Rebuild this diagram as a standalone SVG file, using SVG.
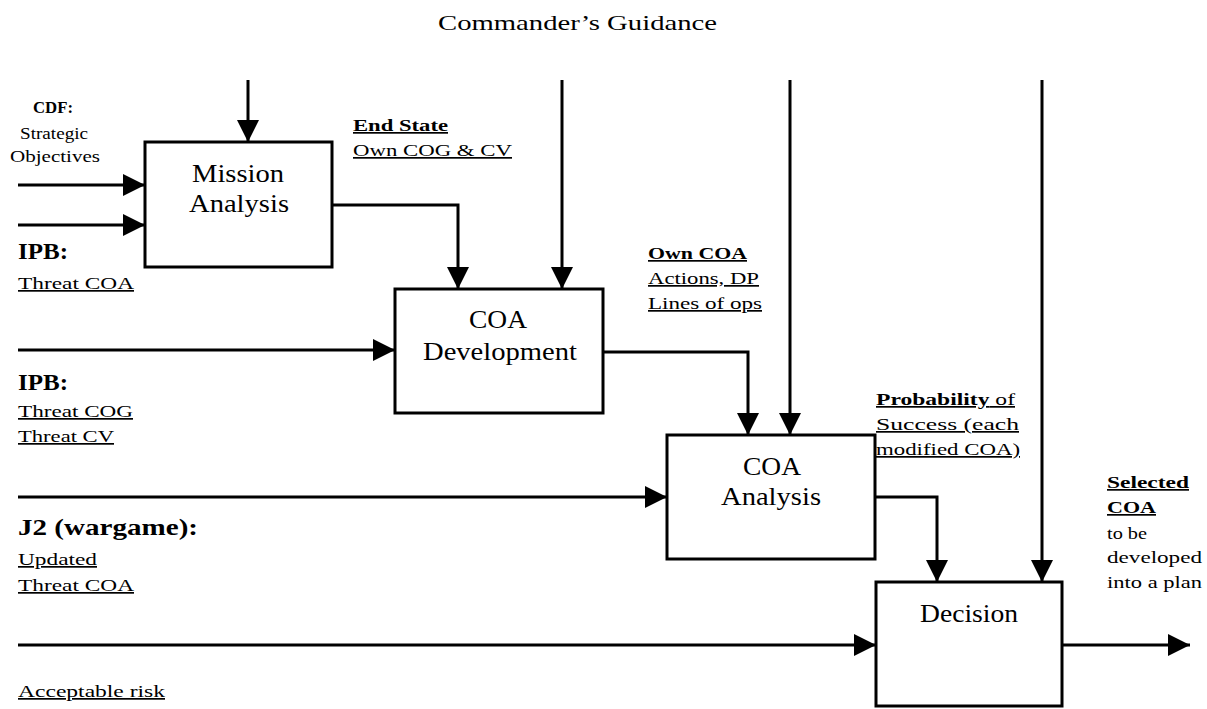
<svg xmlns="http://www.w3.org/2000/svg" width="1207" height="709" viewBox="0 0 1207 709" font-family="Liberation Serif, Times New Roman, serif">
<style>
.box{fill:#fff;stroke:#000;stroke-width:3}
.ln{fill:none;stroke:#000;stroke-width:3;marker-end:url(#ah)}
text{font-family:'Liberation Serif',serif;fill:#000}
.lbl{font-size:26px;text-anchor:middle}
.sm{font-size:17px}
.b{font-weight:bold}
.big{font-size:23px;font-weight:bold}
.u{text-decoration:underline}
</style>
<defs>
<marker id="ah" markerUnits="userSpaceOnUse" markerWidth="24" markerHeight="24" refX="22" refY="11" orient="auto">
<path d="M0,0 L22,11 L0,22 Z" fill="#000"/>
</marker>
</defs>
<rect width="1207" height="709" fill="#fff"/>
<text x="438" y="30" font-size="22" textLength="279" lengthAdjust="spacingAndGlyphs">Commander’s Guidance</text>

<g id="connectors">
<path class="ln" d="M248,80 V142"/>
<path class="ln" d="M18,185 H145"/>
<path class="ln" d="M18,225 H145"/>
<path class="ln" d="M332,205 H458 V289"/>
<path class="ln" d="M562,80 V289"/>
<path class="ln" d="M18,350 H395"/>
<path class="ln" d="M603,352 H748 V435"/>
<path class="ln" d="M790,80 V435"/>
<path class="ln" d="M18,497 H667"/>
<path class="ln" d="M875,497 H937 V582"/>
<path class="ln" d="M1042,80 V582"/>
<path class="ln" d="M18,645 H876"/>
<path class="ln" d="M1062,645 H1190"/>
</g>

<g id="mission-analysis">
<rect class="box" x="145" y="142" width="187" height="125"/>
<text class="lbl" x="238" y="182" textLength="92" lengthAdjust="spacingAndGlyphs">Mission</text>
<text class="lbl" x="239" y="212" textLength="100" lengthAdjust="spacingAndGlyphs">Analysis</text>
</g>
<g id="coa-development">
<rect class="box" x="395" y="289" width="208" height="124"/>
<text class="lbl" x="498" y="328" textLength="58" lengthAdjust="spacingAndGlyphs">COA</text>
<text class="lbl" x="500" y="360" textLength="154" lengthAdjust="spacingAndGlyphs">Development</text>
</g>
<g id="coa-analysis">
<rect class="box" x="667" y="435" width="208" height="124"/>
<text class="lbl" x="772" y="475" textLength="58" lengthAdjust="spacingAndGlyphs">COA</text>
<text class="lbl" x="771" y="505" textLength="100" lengthAdjust="spacingAndGlyphs">Analysis</text>
</g>
<g id="decision">
<rect class="box" x="876" y="582" width="186" height="124"/>
<text class="lbl" x="969" y="622" textLength="98" lengthAdjust="spacingAndGlyphs">Decision</text>
</g>

<g id="labels">
<text class="sm b" x="33" y="113" textLength="40" lengthAdjust="spacingAndGlyphs">CDF:</text>
<text class="sm" x="20" y="139" textLength="68" lengthAdjust="spacingAndGlyphs">Strategic</text>
<text class="sm" x="10" y="162" textLength="90" lengthAdjust="spacingAndGlyphs">Objectives</text>
<text class="big" x="18" y="259" textLength="50" lengthAdjust="spacingAndGlyphs">IPB:</text>
<text class="sm u" x="18" y="289" textLength="116" lengthAdjust="spacingAndGlyphs">Threat COA</text>

<text class="sm b u" x="353" y="131" textLength="95" lengthAdjust="spacingAndGlyphs">End State</text>
<text class="sm u" x="353" y="156" textLength="159" lengthAdjust="spacingAndGlyphs">Own COG &amp; CV</text>

<text class="sm b u" x="648" y="259" textLength="99" lengthAdjust="spacingAndGlyphs">Own COA</text>
<text class="sm u" x="648" y="284" textLength="111" lengthAdjust="spacingAndGlyphs">Actions, DP</text>
<text class="sm u" x="648" y="309" textLength="114" lengthAdjust="spacingAndGlyphs">Lines of ops</text>

<text class="big" x="18" y="390" textLength="50" lengthAdjust="spacingAndGlyphs">IPB:</text>
<text class="sm u" x="18" y="417" textLength="115" lengthAdjust="spacingAndGlyphs">Threat COG</text>
<text class="sm u" x="18" y="442" textLength="96" lengthAdjust="spacingAndGlyphs">Threat CV</text>

<text class="sm u" x="876" y="405" textLength="139" lengthAdjust="spacingAndGlyphs"><tspan class="b">Probability</tspan> of</text>
<text class="sm u" x="876" y="430" textLength="143" lengthAdjust="spacingAndGlyphs">Success (each</text>
<text class="sm u" x="876" y="455" textLength="144" lengthAdjust="spacingAndGlyphs">modified COA)</text>

<text class="big" x="18" y="535" textLength="180" lengthAdjust="spacingAndGlyphs">J2 (wargame):</text>
<text class="sm u" x="18" y="565" textLength="79" lengthAdjust="spacingAndGlyphs">Updated</text>
<text class="sm u" x="18" y="591" textLength="116" lengthAdjust="spacingAndGlyphs">Threat COA</text>

<text class="sm b u" x="1107" y="488" textLength="82" lengthAdjust="spacingAndGlyphs">Selected</text>
<text class="sm b u" x="1107" y="513" textLength="49" lengthAdjust="spacingAndGlyphs">COA</text>
<text class="sm" x="1107" y="539" textLength="40" lengthAdjust="spacingAndGlyphs">to be</text>
<text class="sm" x="1107" y="563" textLength="95" lengthAdjust="spacingAndGlyphs">developed</text>
<text class="sm" x="1107" y="588" textLength="95" lengthAdjust="spacingAndGlyphs">into a plan</text>

<text class="sm u" x="18" y="697" textLength="147" lengthAdjust="spacingAndGlyphs">Acceptable risk</text>
</g>
</svg>
